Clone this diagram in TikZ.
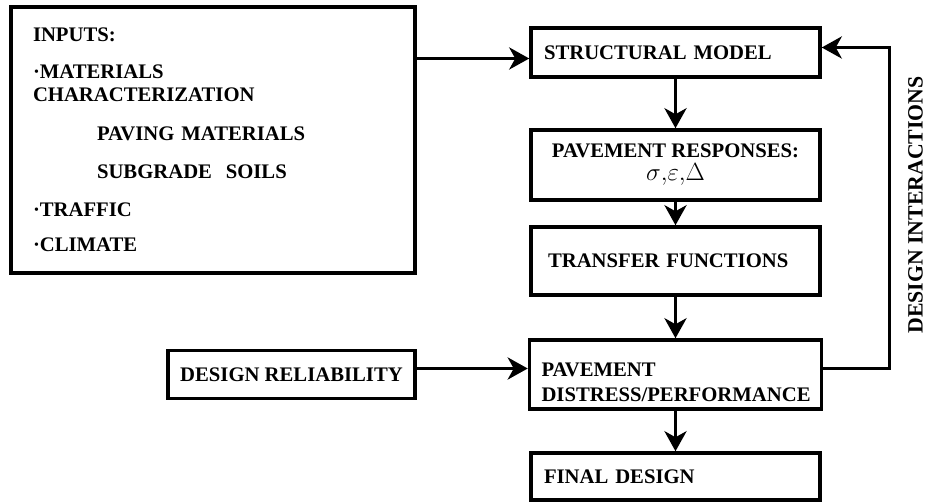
\documentclass[tikz,border=0pt]{standalone}
\usepackage{fontspec}
\setmainfont{Liberation Serif}
\usetikzlibrary{arrows.meta}
\tikzstyle{stage} = [rectangle, draw=black, line width=3.5pt, minimum width=289pt, font=\fontsize{20.7}{25}\selectfont\bfseries]
\tikzstyle{leftstage} = [stage, align=left, inner xsep=13pt, text width=263pt]
\tikzstyle{inputbox} = [rectangle, draw=black, line width=3.5pt, minimum width=404pt, minimum height=266pt, inner xsep=22pt, text width=360pt, align=left, font=\fontsize{20.7}{23}\selectfont\bfseries]
\tikzstyle{arrow} = [line width=3.5pt,-{Stealth[length=20pt,width=22pt,inset=6pt]}]

\begin{document}
\begin{tikzpicture}[x=1pt, y=1pt, node distance=100pt]
\useasboundingbox (0,0) rectangle (927,-502);

\node (inputs) [inputbox] at (213,-140) {INPUTS:\\[14pt]
·MATERIALS\\
CHARACTERIZATION\\[16pt]
\hspace*{64pt}PAVING MATERIALS\\[15pt]
\hspace*{64pt}SUBGRADE\ \ SOILS\\[15pt]
·TRAFFIC\\[12pt]
·CLIMATE};
\node (model) [leftstage, minimum height=49pt] at (675.5,-52.5) {STRUCTURAL MODEL};
\node (responses) [stage, align=center, minimum height=70pt, yshift=-12.5pt, below of=model] {PAVEMENT RESPONSES:\\[-2pt]{\fontsize{26}{28}\selectfont$\sigma{,}\varepsilon{,}\Delta$}};
\node (transfer) [stage, align=left, inner xsep=17pt, text width=255pt, minimum height=68pt, yshift=4pt, below of=responses] {TRANSFER FUNCTIONS};
\node (distress) [stage, align=left, inner xsep=12pt, text width=268pt, minimum height=69pt, yshift=-13.5pt, below of=transfer] {\rule{0pt}{29pt}PAVEMENT\\DISTRESS/PERFORMANCE};
\node (final) [leftstage, minimum height=47pt, yshift=-2pt, below of=distress] {FINAL DESIGN};
\node (reliability) [stage, minimum width=247pt, minimum height=48pt, xshift=-284pt, left of=distress] {DESIGN RELIABILITY};
\node (interact) [rotate=90, font=\fontsize{21.8}{24}\selectfont\bfseries] at (915.5,-205) {DESIGN INTERACTIONS};

\draw [arrow] ([yshift=-6pt]model.west -| inputs.east) -- ([yshift=-6pt]model.west);
\draw [arrow] (model) -- (responses);
\draw [arrow] (responses) -- (transfer);
\draw [arrow] (transfer) -- (distress);
\draw [arrow] (distress) -- (final);
\draw [arrow] ([yshift=6pt]reliability.east) -- ([yshift=6pt]reliability.east -| distress.west);
\draw [arrow] ([yshift=6pt]distress.east) -- ++(66,0) |- ([yshift=5pt]model.east);

\end{tikzpicture}
\end{document}
